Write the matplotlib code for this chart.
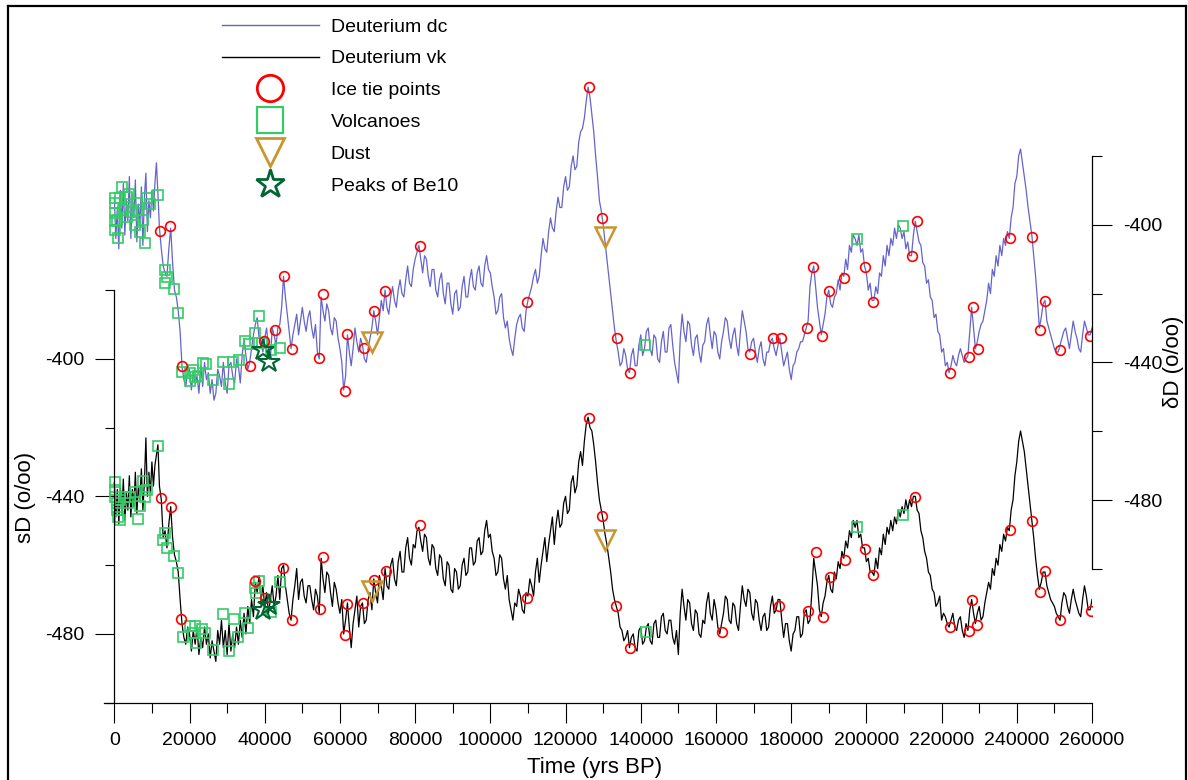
import matplotlib.pyplot as plt
from matplotlib.lines import Line2D

plt.rcParams['font.family'] = ['Liberation Sans', 'DejaVu Sans']
plt.rcParams['axes.unicode_minus'] = False

# time axis, kyr BP
age_kyr = [0, 0.4, 0.8, 1.2, 1.6, 2.0, 2.4, 2.8, 3.2, 3.6,
           4.0, 4.4, 4.8, 5.2, 5.6, 6.0, 6.4, 6.8, 7.2, 7.6,
           8.0, 8.4, 8.8, 9.2, 9.6, 10.0, 10.4, 10.8, 11.2, 11.6,
           12.0, 12.5, 13.0, 13.5, 14.0, 14.5, 15.0, 15.5, 16.0, 16.5,
           17.0, 17.5, 18.0, 18.5, 19.0, 19.5, 20.0, 20.5, 21.0, 21.5,
           22.0, 22.5, 23.0, 23.5, 24.0, 24.5, 25.0, 25.5, 26.0, 26.5,
           27.0, 27.5, 28.0, 28.5, 29.0, 29.5, 30.0, 30.5, 31.0, 31.5,
           32.0, 32.5, 33.0, 33.5, 34.0, 34.5, 35.0, 35.5, 36.0, 36.5,
           37.0, 37.5, 38.0, 38.5, 39.0, 39.5, 40.0, 40.5, 41.0, 41.5,
           42.0, 42.5, 43.0, 43.5, 44.0, 44.5, 45.0, 45.5, 46.0, 46.5,
           47.0, 47.5, 48.0, 48.5, 49.0, 49.5, 50.0, 50.5, 51.0, 51.5,
           52.0, 52.5, 53.0, 53.5, 54.0, 54.5, 55.0, 55.5, 56.0, 56.5,
           57.0, 57.5, 58.0, 58.5, 59.0, 59.5, 60.0, 60.5, 61.0, 61.5,
           62.0, 62.5, 63.0, 63.5, 64.0, 64.5, 65.0, 65.5, 66.0, 66.5,
           67.0, 67.5, 68.0, 68.5, 69.0, 69.5, 70.0, 70.5, 71.0, 71.5,
           72.0, 72.5, 73.0, 73.5, 74.0, 74.5, 75.0, 75.5, 76.0, 76.5,
           77.0, 77.5, 78.0, 78.5, 79.0, 79.5, 80.0, 80.5, 81.0, 81.5,
           82.0, 82.5, 83.0, 83.5, 84.0, 84.5, 85.0, 85.5, 86.0, 86.5,
           87.0, 87.5, 88.0, 88.5, 89.0, 89.5, 90.0, 90.5, 91.0, 91.5,
           92.0, 92.5, 93.0, 93.5, 94.0, 94.5, 95.0, 95.5, 96.0, 96.5,
           97.0, 97.5, 98.0, 98.5, 99.0, 99.5, 100.0, 100.5, 101.0, 101.5,
           102.0, 102.5, 103.0, 103.5, 104.0, 104.5, 105.0, 105.5, 106.0, 106.5,
           107.0, 107.5, 108.0, 108.5, 109.0, 109.5, 110.0, 110.5, 111.0, 111.5,
           112.0, 112.5, 113.0, 113.5, 114.0, 114.5, 115.0, 115.5, 116.0, 116.5,
           117.0, 117.5, 118.0, 118.5, 119.0, 119.5, 120.0, 120.5, 121.0, 121.5,
           122.0, 122.5, 123.0, 123.5, 124.0, 124.5, 125.0, 125.5, 126.0, 126.5,
           127.0, 127.5, 128.0, 128.5, 129.0, 129.5, 130.0, 130.5, 131.0, 131.5,
           132.0, 132.5, 133.0, 133.5, 134.0, 134.5, 135.0, 135.5, 136.0, 136.5,
           137.0, 137.5, 138.0, 138.5, 139.0, 139.5, 140.0, 140.5, 141.0, 141.5,
           142.0, 142.5, 143.0, 143.5, 144.0, 144.5, 145.0, 145.5, 146.0, 146.5,
           147.0, 147.5, 148.0, 148.5, 149.0, 149.5, 150.0, 150.5, 151.0, 151.5,
           152.0, 152.5, 153.0, 153.5, 154.0, 154.5, 155.0, 155.5, 156.0, 156.5,
           157.0, 157.5, 158.0, 158.5, 159.0, 159.5, 160.0, 160.5, 161.0, 161.5,
           162.0, 162.5, 163.0, 163.5, 164.0, 164.5, 165.0, 165.5, 166.0, 166.5,
           167.0, 167.5, 168.0, 168.5, 169.0, 169.5, 170.0, 170.5, 171.0, 171.5,
           172.0, 172.5, 173.0, 173.5, 174.0, 174.5, 175.0, 175.5, 176.0, 176.5,
           177.0, 177.5, 178.0, 178.5, 179.0, 179.5, 180.0, 180.5, 181.0, 181.5,
           182.0, 182.5, 183.0, 183.5, 184.0, 184.5, 185.0, 185.5, 186.0, 186.5,
           187.0, 187.5, 188.0, 188.5, 189.0, 189.5, 190.0, 190.5, 191.0, 191.5,
           192.0, 192.5, 193.0, 193.5, 194.0, 194.5, 195.0, 195.5, 196.0, 196.5,
           197.0, 197.5, 198.0, 198.5, 199.0, 199.5, 200.0, 200.5, 201.0, 201.5,
           202.0, 202.5, 203.0, 203.5, 204.0, 204.5, 205.0, 205.5, 206.0, 206.5,
           207.0, 207.5, 208.0, 208.5, 209.0, 209.5, 210.0, 210.5, 211.0, 211.5,
           212.0, 212.5, 213.0, 213.5, 214.0, 214.5, 215.0, 215.5, 216.0, 216.5,
           217.0, 217.5, 218.0, 218.5, 219.0, 219.5, 220.0, 220.5, 221.0, 221.5,
           222.0, 222.5, 223.0, 223.5, 224.0, 224.5, 225.0, 225.5, 226.0, 226.5,
           227.0, 227.5, 228.0, 228.5, 229.0, 229.5, 230.0, 230.5, 231.0, 231.5,
           232.0, 232.5, 233.0, 233.5, 234.0, 234.5, 235.0, 235.5, 236.0, 236.5,
           237.0, 237.5, 238.0, 238.5, 239.0, 239.5, 240.0, 240.5, 241.0, 241.5,
           242.0, 242.5, 243.0, 243.5, 244.0, 244.5, 245.0, 245.5, 246.0, 246.5,
           247.0, 247.5, 248.0, 248.5, 249.0, 249.5, 250.0, 250.5, 251.0, 251.5,
           252.0, 252.5, 253.0, 253.5, 254.0, 254.5, 255.0, 255.5, 256.0, 256.5,
           257.0, 257.5, 258.0, 258.5, 259.0, 259.5, 260.0]

# Deuterium dc (right axis)
dd_dc = [-392, -404, -395, -407, -390, -401, -388, -403, -393, -399,
         -386, -404, -391, -398, -387, -405, -394, -400, -389, -406,
         -392, -385, -402, -393, -398, -390, -396, -388, -382, -391,
         -401, -407, -412, -414, -415, -407, -401, -411, -419, -421,
         -425, -431, -441, -445, -447, -443, -442, -448, -443, -446,
         -444, -449, -441, -447, -440, -445, -443, -449, -445, -451,
         -449, -442, -444, -447, -440, -446, -449, -441, -440, -444,
         -446, -439, -441, -446, -438, -433, -438, -442, -440, -436,
         -432, -429, -427, -433, -434, -437, -433, -430, -436, -439,
         -430, -432, -435, -430, -429, -424, -415, -421, -426, -431,
         -436, -432, -429, -426, -432, -428, -424, -428, -431, -427,
         -425, -430, -433, -429, -437, -439, -421, -425, -428, -423,
         -425, -430, -432, -427, -428, -433, -436, -440, -448, -444,
         -432, -437, -441, -436, -430, -434, -437, -433, -435, -439,
         -440, -436, -433, -430, -425, -428, -432, -427, -422, -425,
         -419, -424, -426, -421, -418, -422, -424, -419, -416, -420,
         -421, -416, -412, -417, -418, -413, -410, -408, -406, -410,
         -414, -409, -410, -415, -418, -413, -413, -419, -421, -416,
         -414, -420, -423, -417, -417, -423, -426, -420, -419, -425,
         -424, -418, -415, -421, -421, -416, -413, -418, -419, -414,
         -412, -417, -418, -412, -409, -413, -414, -418, -421, -426,
         -425, -421, -420, -427, -430, -428, -433, -436, -438, -433,
         -429, -427, -426, -430, -431, -425, -422, -420, -418, -415,
         -413, -417, -415, -409, -404, -407, -408, -402, -398, -401,
         -402, -396, -392, -395, -395, -389, -386, -390, -389, -383,
         -380, -384, -383, -376, -373, -372, -369, -364, -360, -363,
         -368, -373, -380, -386, -393, -396, -400, -405, -410, -415,
         -420, -425, -430, -434, -437, -441, -440, -436, -438, -442,
         -443, -438, -436, -441, -441, -435, -432, -438, -436, -431,
         -430, -436, -438, -432, -433, -439, -440, -434, -431, -437,
         -437, -430, -429, -435, -440, -443, -446, -433, -426, -431,
         -434, -428, -429, -435, -438, -433, -432, -437, -440, -435,
         -434, -429, -427, -432, -436, -431, -432, -437, -439, -434,
         -431, -427, -428, -433, -436, -432, -430, -435, -438, -431,
         -425, -428, -431, -436, -437, -434, -433, -437, -440, -436,
         -434, -439, -441, -437, -437, -434, -433, -436, -438, -435,
         -433, -437, -441, -439, -437, -442, -445, -441, -440, -437,
         -436, -434, -434, -432, -430, -428, -418, -414, -412, -418,
         -424, -428, -432, -429, -426, -421, -419, -423, -424, -421,
         -420, -416, -419, -414, -415, -410, -413, -406, -408, -403,
         -404, -406, -403, -408, -407, -412, -414, -419, -417, -422,
         -422, -418, -420, -414, -415, -409, -412, -406, -409, -404,
         -406, -401, -404, -400, -401, -404, -402, -407, -405, -409,
         -409, -403, -399, -402, -405, -406, -411, -412, -417, -416,
         -421, -422, -427, -426, -431, -432, -437, -436, -441, -440,
         -443, -441, -438, -440, -441, -438, -436, -438, -440, -439,
         -438, -431, -424, -430, -436, -434, -431, -429, -428, -425,
         -422, -417, -420, -413, -415, -409, -412, -406, -409, -404,
         -406, -402, -404, -398, -395, -388, -386, -380, -378, -382,
         -386, -390, -395, -399, -403, -409, -415, -422, -430, -427,
         -423, -422, -428, -430, -432, -434, -436, -437, -437, -435,
         -433, -431, -430, -433, -436, -432, -428, -431, -433, -436,
         -437, -432, -428, -430, -432, -432, -430]

# Deuterium vk (left axis)
dd_vk = [-436, -446, -438, -448, -437, -445, -435, -447, -439, -444,
         -434, -446, -438, -443, -433, -445, -437, -441, -432, -444,
         -436, -423, -440, -433, -439, -430, -437, -431, -428, -425,
         -437, -441, -452, -450, -455, -448, -443, -452, -457, -459,
         -462, -470, -477, -481, -483, -478, -480, -485, -479, -483,
         -478, -486, -481, -484, -478, -483, -480, -487, -482, -485,
         -488, -479, -483, -476, -484, -479, -486, -477, -485, -480,
         -484, -478, -483, -476, -481, -474, -480, -472, -477, -470,
         -475, -465, -468, -463, -470, -466, -472, -468, -474, -470,
         -466, -472, -469, -463, -470, -461, -460, -466, -470, -474,
         -476, -470, -466, -461, -470, -465, -464, -469, -471, -466,
         -466, -470, -473, -467, -469, -474, -458, -464, -468, -462,
         -463, -468, -472, -465, -467, -471, -474, -470, -480, -476,
         -471, -478, -484, -477, -473, -469, -478, -472, -471, -477,
         -476, -470, -468, -473, -464, -468, -471, -463, -466, -470,
         -461, -466, -467, -460, -458, -464, -466, -459, -456, -462,
         -462, -455, -452, -458, -460, -454, -455, -450, -449, -453,
         -456, -451, -452, -458, -460, -454, -455, -461, -463, -457,
         -458, -464, -466, -459, -460, -467, -468, -461, -462, -467,
         -466, -460, -458, -463, -462, -455, -455, -460, -459, -453,
         -452, -457, -456, -450, -447, -452, -451, -456, -458, -463,
         -462, -457, -458, -464, -467, -463, -470, -473, -476, -471,
         -472, -467, -469, -473, -474, -468, -469, -464, -466, -469,
         -462, -458, -465, -460, -456, -452, -459, -454, -450, -446,
         -454, -448, -444, -449, -448, -442, -440, -445, -444, -436,
         -434, -439, -437, -430, -427, -431, -424, -419, -417, -420,
         -421, -425, -430, -436, -441, -444, -447, -451, -454, -458,
         -462, -467, -470, -472, -474, -478, -479, -482, -481, -479,
         -484, -481, -480, -484, -485, -479, -478, -483, -482, -478,
         -477, -482, -483, -477, -476, -481, -481, -475, -474, -479,
         -480, -476, -476, -481, -483, -479, -486, -474, -467, -472,
         -476, -470, -471, -477, -479, -473, -474, -480, -481, -476,
         -477, -471, -468, -474, -476, -470, -473, -478, -480, -477,
         -474, -469, -470, -476, -477, -471, -472, -477, -479, -472,
         -466, -470, -472, -467, -468, -474, -476, -470, -471, -476,
         -479, -475, -474, -479, -478, -472, -469, -474, -473, -470,
         -470, -476, -481, -477, -477, -482, -485, -480, -479, -475,
         -475, -481, -480, -474, -473, -477, -476, -468, -458, -462,
         -466, -473, -475, -471, -469, -465, -463, -467, -468, -462,
         -464, -459, -461, -456, -458, -453, -455, -450, -452, -447,
         -449, -447, -452, -451, -455, -455, -459, -458, -462, -462,
         -463, -458, -461, -455, -457, -451, -454, -449, -451, -447,
         -450, -446, -448, -444, -446, -443, -445, -441, -444, -441,
         -443, -440, -440, -444, -445, -450, -452, -456, -458, -462,
         -463, -467, -468, -472, -471, -469, -476, -474, -475, -477,
         -478, -476, -474, -478, -479, -476, -475, -479, -481, -477,
         -479, -473, -470, -474, -477, -474, -472, -476, -475, -471,
         -468, -465, -467, -461, -463, -458, -460, -454, -456, -451,
         -453, -449, -450, -444, -441, -434, -430, -424, -421, -424,
         -427, -432, -437, -442, -447, -452, -458, -463, -467, -465,
         -462, -462, -466, -468, -470, -471, -472, -474, -475, -476,
         -471, -468, -469, -472, -474, -470, -467, -470, -472, -474,
         -475, -470, -466, -469, -473, -473, -470]

# ice tie points
tie_dc_age = [12.2, 14.8, 17.9, 36.1, 39.8, 42.7, 45.1, 47.3, 54.4, 55.5,
              61.4, 61.9, 66.4, 69.1, 72.0, 81.3, 109.8, 126.3, 129.7, 133.7,
              137.1, 169.1, 175.2, 177.3, 184.2, 185.8, 188.2, 190.0, 194.1, 199.6,
              201.7, 212.1, 213.4, 222.3, 227.3, 228.4, 229.7, 238.2, 244.1, 246.2,
              247.6, 251.6, 259.5]
tie_dc = [-401.8, -400.3, -441.0, -441.0, -433.8, -430.6, -414.9, -436.1, -438.7, -420.1,
          -448.3, -431.7, -435.8, -425.1, -419.2, -406.2, -422.4, -359.9, -398.0, -432.9,
          -443.1, -437.6, -432.9, -432.9, -430.0, -412.3, -432.3, -419.2, -415.5, -412.3,
          -422.4, -409.1, -398.9, -443.1, -438.4, -423.9, -436.1, -403.8, -403.5, -430.6,
          -422.2, -436.4, -432.3]
tie_vk_age = [12.4, 15.1, 17.7, 37.4, 40.1, 44.9, 47.3, 54.7, 55.5, 61.4,
              61.9, 66.1, 69.1, 72.3, 81.3, 109.8, 126.3, 129.7, 133.4, 137.1,
              161.6, 176.8, 184.4, 186.6, 188.5, 190.3, 194.3, 199.6, 201.7, 213.0,
              222.3, 227.3, 228.1, 229.5, 238.2, 244.1, 246.2, 247.6, 251.6, 259.8]
tie_vk = [-440.5, -443.1, -475.6, -464.6, -469.5, -460.8, -475.9, -472.7, -457.6, -480.3,
          -471.3, -471.0, -464.3, -461.7, -448.3, -469.5, -417.2, -445.7, -471.9, -484.1,
          -479.4, -471.9, -473.3, -456.2, -475.1, -463.4, -458.5, -455.3, -462.8, -440.2,
          -478.0, -479.1, -470.1, -477.4, -449.8, -447.2, -467.8, -461.7, -475.9, -473.3]

# volcanoes
volc_dc_age = [0.2, 0.2, 1.5, 3.4, 0.2, 0.7, 0.2, 2.3, 3.4, 4.7, 6.0, 6.3, 7.6, 6.8,
               8.1, 8.7, 11.6, 0.2, 1.0, 2.0, 5.5, 4.0, 9.5,
               13.5, 14.0, 13.5, 15.9, 16.9, 18.0, 20.1, 20.1, 20.9, 21.5, 22.3,
               23.6, 24.4, 26.2, 28.9, 30.5, 31.6, 33.2, 34.8, 35.8, 37.4, 38.5,
               39.3, 41.7, 44.1, 141.1, 197.5, 209.7]
volc_dc = [-392.2, -393.7, -392.2, -391.9, -396.6, -398.6, -401.5, -395.7, -397.7, -396.3,
           -393.7, -395.7, -398.6, -402.1, -405.3, -392.2, -391.3, -399.0, -404.0, -389.0,
           -400.0, -391.0, -394.0,
           -413.1, -415.2, -416.9, -418.7, -425.6, -442.8, -443.1, -445.4, -442.2, -444.2,
           -444.0, -440.2, -440.5, -445.1, -439.9, -446.3, -439.9, -439.3, -433.8, -434.7,
           -431.5, -426.5, -434.4, -436.4, -435.8, -434.9, -404.1, -400.3]
volc_vk_age = [0.2, 0.2, 0.2, 0.7, 0.7, 1.0, 1.5, 1.5, 2.8, 4.2, 3.6, 5.5, 6.3, 6.8,
               7.6, 8.1, 8.7, 11.6, 13.5, 13.0, 14.0, 15.9, 16.9, 18.3, 20.1, 20.9,
               21.7, 21.5, 23.3, 24.1, 26.2, 28.9, 30.5, 31.8, 32.9, 34.8, 35.6,
               37.7, 38.5, 37.4, 41.7, 44.1, 141.4, 197.5, 209.7]
volc_vk = [-435.8, -438.1, -440.2, -441.9, -444.0, -446.0, -446.9, -441.0, -440.2, -440.2,
           -441.9, -438.7, -446.6, -442.8, -435.5, -440.2, -438.1, -425.3, -450.6, -452.7,
           -455.0, -457.3, -462.3, -480.9, -477.7, -479.7, -482.6, -477.7, -478.5, -479.7,
           -484.7, -474.2, -484.9, -475.6, -480.9, -473.9, -478.3, -468.1, -464.6, -466.6,
           -473.6, -464.9, -479.4, -448.9, -445.4]

# dust
dust_age = [68.5, 130.5]
dust_dc = [-434.1, -403.5]
dust_vk = [-467.5, -452.7]

# peaks of Be10
be10_age = [39.5, 41.1]
be10_dc = [-436.4, -439.9]
be10_vk = [-473.0, -471.6]

to_yr = lambda v: [a * 1000 for a in v]

blue = '#6464CC'
red = '#FF0000'
green = '#33CC66'
gold = '#C8962E'
dkgreen = '#006633'

W, H = 1188, 780
fig = plt.figure(figsize=(W / 100, H / 100), dpi=100)
ax = fig.add_axes([104 / W, (H - 702.7) / H, (1092 - 104) / W, (702.7 - 10) / H])
ax2 = ax.twinx()

ax.set_xlim(-2740, 260000)
ax.set_ylim(-500, -298.6)
ax2.set_ylim(-538.9, -337.6)

# curves
ax2.plot(to_yr(age_kyr), dd_dc, color=blue, lw=0.9)
ax.plot(to_yr(age_kyr), dd_vk, color='black', lw=0.9)

ckw = dict(ls='none', marker='o', ms=7, mfc='none', mec=red, mew=1.2)
skw = dict(ls='none', marker='s', ms=7, mfc='none', mec=green, mew=1.2)
tkw = dict(ls='none', marker='v', ms=14, mfc='none', mec=gold, mew=1.8)
pkw = dict(ls='none', marker='*', ms=16, mfc='none', mec=dkgreen, mew=1.5)

ax2.plot(to_yr(volc_dc_age), volc_dc, **skw)
ax2.plot(to_yr(tie_dc_age), tie_dc, **ckw)
ax2.plot(to_yr(dust_age), dust_dc, **tkw)
ax2.plot(to_yr(be10_age), be10_dc, **pkw)

ax.plot(to_yr(volc_vk_age), volc_vk, **skw)
ax.plot(to_yr(tie_vk_age), tie_vk, **ckw)
ax.plot(to_yr(dust_age), dust_vk, **tkw)
ax.plot(to_yr(be10_age), be10_vk, **pkw)

# spines
for s in ['top', 'right']:
    ax.spines[s].set_visible(False)
for s in ['top', 'left', 'bottom']:
    ax2.spines[s].set_visible(False)
ax.spines['left'].set_position(('data', 0))
ax.spines['left'].set_bounds(-500, -380)
ax2.spines['right'].set_bounds(-500, -380)
for sp in [ax.spines['left'], ax.spines['bottom'], ax2.spines['right']]:
    sp.set_linewidth(0.9)

# ticks
ax.set_xticks(range(0, 260001, 20000))
ax.set_xticks(range(10000, 260000, 20000), minor=True)
ax.set_yticks([-480, -440, -400])
ax.set_yticks([-500, -460, -420, -380], minor=True)
ax2.set_yticks([-480, -440, -400])
ax2.set_yticks([-500, -460, -420, -380], minor=True)
ax.tick_params(axis='x', which='major', length=14.4, width=0.8, labelsize=14, pad=7)
ax.tick_params(axis='x', which='minor', length=7.2, width=0.8)
ax.tick_params(axis='y', which='major', length=13.7, width=0.8, labelsize=14, pad=8)
ax.tick_params(axis='y', which='minor', length=6.5, width=0.8)
ax2.tick_params(axis='y', which='major', length=14.4, width=0.8, labelsize=14, pad=8)
ax2.tick_params(axis='y', which='minor', length=7.2, width=0.8)

fig.text(595 / W, 1 - 767 / H, 'Time (yrs BP)', ha='center', va='center', fontsize=16)
fig.text(25 / W, 1 - 497 / H, 'sD (o/oo)', ha='center', va='center', rotation=90, fontsize=16)
fig.text(1174 / W, 1 - 362 / H, '\u03b4D (o/oo)', ha='center', va='center', rotation=90, fontsize=16)

# legend
handles = [
    Line2D([], [], color=blue, lw=1),
    Line2D([], [], color='black', lw=1),
    Line2D([], [], ls='none', marker='o', ms=19, mfc='none', mec=red, mew=2),
    Line2D([], [], ls='none', marker='s', ms=19, mfc='none', mec=green, mew=1.6),
    Line2D([], [], ls='none', marker='v', ms=20, mfc='none', mec=gold, mew=2),
    Line2D([], [], ls='none', marker='*', ms=21, mfc='none', mec=dkgreen, mew=2),
]
labels = ['Deuterium dc', 'Deuterium vk', 'Ice tie points', 'Volcanoes', 'Dust', 'Peaks of Be10']
ax2.legend(handles, labels, loc='upper left', bbox_to_anchor=(221.7 / W, 1 - 18 / H),
           bbox_transform=fig.transFigure, frameon=False, fontsize=14,
           handlelength=5, handletextpad=0.6, labelspacing=0.73,
           borderpad=0, borderaxespad=0)

# figure border
bk = dict(transform=fig.transFigure, color='black', lw=1.6)
fig.add_artist(Line2D([8.3 / W, 8.3 / W], [0, 1 - 5.7 / H], **bk))
fig.add_artist(Line2D([8.3 / W, 1186 / W], [1 - 5.7 / H, 1 - 5.7 / H], **bk))
fig.add_artist(Line2D([1186 / W, 1186 / W], [0, 1 - 5.7 / H], **bk))

fig.savefig('out.png', dpi=100)
